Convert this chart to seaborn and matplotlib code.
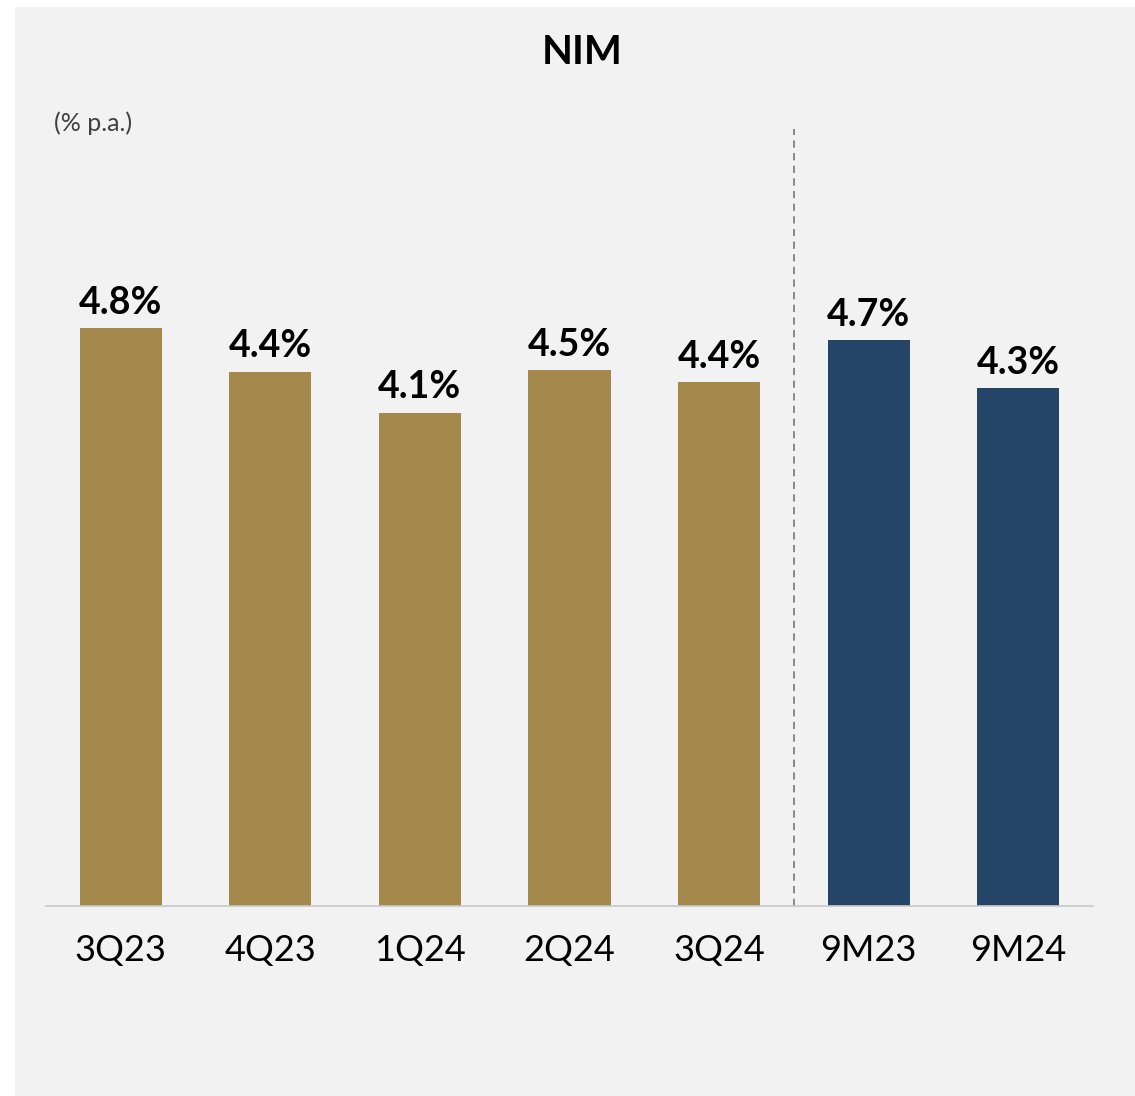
import matplotlib
matplotlib.use("Agg")
import matplotlib.pyplot as plt
import seaborn as sns
import pandas as pd
from matplotlib.patches import Rectangle

# Data
periods = ["3Q23", "4Q23", "1Q24", "2Q24", "3Q24", "9M23", "9M24"]
nim = [4.80, 4.44, 4.10, 4.45, 4.35, 4.70, 4.30]
nim_labels = ["4.8%", "4.4%", "4.1%", "4.5%", "4.4%", "4.7%", "4.3%"]
kind = ["Quarter", "Quarter", "Quarter", "Quarter", "Quarter", "9M", "9M"]

gold = "#A5884B"
navy = "#254568"
bg = "#F2F2F2"

sns.set_style("white")
plt.rcParams["font.family"] = ["Lato", "DejaVu Sans"]

df = pd.DataFrame({"period": periods, "nim": nim, "kind": kind})

fig = plt.figure(figsize=(11.35, 10.96), dpi=100)
fig.patch.set_facecolor("white")
# grey panel behind the chart
fig.patches.append(Rectangle((15 / 1135, 0), 1 - 15 / 1135, 1 - 7 / 1096,
                             transform=fig.transFigure, facecolor=bg,
                             edgecolor="none", zorder=-10))

ax = fig.add_axes([46 / 1135, 190 / 1096, (1093 - 46) / 1135, (906 - 129) / 1096])
ax.patch.set_alpha(0)

sns.barplot(data=df, x="period", y="nim", hue="kind",
            palette={"Quarter": gold, "9M": navy}, dodge=False,
            width=0.55, legend=False, ax=ax, saturation=1, linewidth=0)

# value labels above bars
labels_by_x = dict(zip(range(len(periods)), nim_labels))
for bar in ax.patches:
    x = bar.get_x() + bar.get_width() / 2
    h = bar.get_height()
    if h == 0:
        continue
    ax.annotate(labels_by_x[int(round(x))], (x, h), xytext=(0, 6),
                textcoords="offset points", ha="center", va="bottom",
                fontsize=27, fontweight="bold", color="black")

ax.set_xlim(-0.5, 6.5)
ax.set_ylim(0, 6.456)

# separator between quarters and nine-month figures
ax.axvline(4.5, ymin=0, ymax=1, color="#808080", linestyle=(0, (4, 3)), linewidth=1.3)

for s in ["top", "right", "left"]:
    ax.spines[s].set_visible(False)
ax.spines["bottom"].set_color("#C8C8C8")
ax.spines["bottom"].set_linewidth(1.2)
ax.set_yticks([])
ax.set_xlabel("")
ax.set_ylabel("")
ax.tick_params(axis="x", length=0, pad=20, labelsize=26, labelcolor="black")

fig.text(582 / 1135, 1 - 53 / 1096, "NIM", ha="center", va="center",
         fontsize=29, fontweight="bold", color="black")
fig.text(54 / 1135, 1 - 123 / 1096, "(% p.a.)", ha="left", va="center",
         fontsize=18, color="#404040")

fig.savefig("out.png", dpi=100, facecolor=fig.get_facecolor())
